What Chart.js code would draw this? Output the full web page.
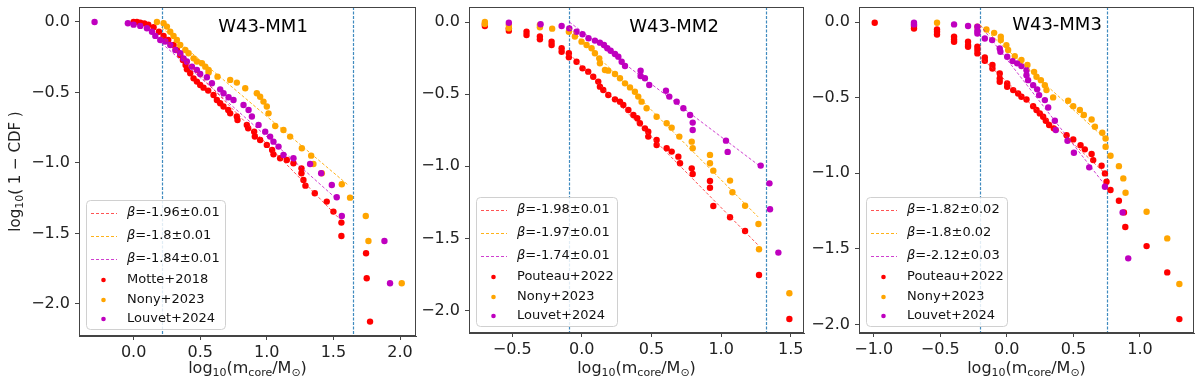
<!DOCTYPE html>
<html>
<head>
<meta charset="utf-8">
<script src="https://cdn.jsdelivr.net/npm/chart.js@4.4.1/dist/chart.umd.min.js"></script>
<style>
  body { margin: 0; background: #fff; }
  #wrap { position: relative; width: 1200px; height: 384px; }
  canvas { position: absolute; top: 0; }
</style>
</head>
<body>
<div id="wrap">
  <canvas id="c1" width="420" height="384" style="left:0px"></canvas>
  <canvas id="c2" width="390" height="384" style="left:420px"></canvas>
  <canvas id="c3" width="390" height="384" style="left:810px"></canvas>
</div>
<script>
// ---- data: [log10(m_core/Msun), log10(1-CDF)] ----
const mm1Motte = [[0,0],[0.025,0],[0.05,-0.005],[0.08,-0.01],[0.11,-0.02],[0.15,-0.038],[0.19,-0.069],[0.225,-0.1],[0.26,-0.128],[0.3,-0.163],[0.325,-0.199],[0.35,-0.234],[0.37,-0.27],[0.39,-0.305],[0.4,-0.336],[0.425,-0.364],[0.45,-0.4],[0.475,-0.423],[0.5,-0.447],[0.525,-0.466],[0.56,-0.487],[0.6,-0.518],[0.625,-0.553],[0.65,-0.577],[0.675,-0.6],[0.71,-0.624],[0.725,-0.648],[0.775,-0.671],[0.78,-0.695],[0.85,-0.73],[0.86,-0.754],[0.905,-0.778],[0.91,-0.813],[0.95,-0.837],[1.0,-0.872],[1.04,-0.908],[1.05,-0.939],[1.1,-0.967],[1.15,-0.979],[1.2,-1.002],[1.26,-1.038],[1.26,-1.073],[1.275,-1.12],[1.29,-1.161],[1.36,-1.215],[1.45,-1.274],[1.5,-1.345],[1.56,-1.423],[1.56,-1.518],[1.745,-1.64],[1.75,-1.818],[1.775,-2.125]];
const mm1Nony = [[0.175,0],[0.225,-0.009],[0.25,-0.033],[0.275,-0.069],[0.3,-0.099],[0.325,-0.128],[0.35,-0.163],[0.388,-0.199],[0.413,-0.222],[0.45,-0.258],[0.475,-0.281],[0.513,-0.293],[0.538,-0.317],[0.563,-0.34],[0.563,-0.359],[0.63,-0.388],[0.725,-0.411],[0.775,-0.43],[0.838,-0.47],[0.925,-0.506],[0.95,-0.53],[0.975,-0.565],[1.0,-0.6],[1.013,-0.648],[1.063,-0.738],[1.125,-0.766],[1.175,-0.813],[1.263,-0.896],[1.333,-0.948],[1.35,-1.007],[1.413,-1.073],[1.563,-1.151],[1.625,-1.246],[1.743,-1.376],[1.763,-1.553],[2.013,-1.853]];
const mm1Louvet = [[-0.293,0],[-0.043,-0.009],[0,-0.019],[0.05,-0.028],[0.1,-0.045],[0.138,-0.069],[0.163,-0.099],[0.2,-0.128],[0.238,-0.139],[0.275,-0.163],[0.313,-0.199],[0.35,-0.222],[0.375,-0.258],[0.4,-0.281],[0.438,-0.317],[0.475,-0.34],[0.5,-0.369],[0.55,-0.392],[0.588,-0.435],[0.65,-0.478],[0.675,-0.506],[0.713,-0.534],[0.75,-0.553],[0.825,-0.589],[0.863,-0.624],[0.888,-0.671],[0.938,-0.73],[0.988,-0.778],[1.025,-0.813],[1.05,-0.849],[1.088,-0.884],[1.125,-0.943],[1.2,-0.967],[1.325,-1.007],[1.408,-1.073],[1.488,-1.156],[1.525,-1.243],[1.563,-1.376],[1.883,-1.553],[1.925,-1.853]];

const mm2Pouteau = [[-0.696,-0.014],[-0.696,-0.028],[-0.524,-0.044],[-0.524,-0.06],[-0.397,-0.067],[-0.397,-0.09],[-0.301,-0.1],[-0.301,-0.12],[-0.217,-0.136],[-0.217,-0.159],[-0.145,-0.182],[-0.145,-0.206],[-0.093,-0.217],[-0.093,-0.245],[-0.038,-0.275],[0.005,-0.321],[0.046,-0.344],[0.082,-0.379],[0.118,-0.413],[0.13,-0.448],[0.154,-0.471],[0.19,-0.506],[0.238,-0.536],[0.274,-0.552],[0.298,-0.575],[0.334,-0.61],[0.37,-0.644],[0.398,-0.667],[0.417,-0.702],[0.453,-0.737],[0.477,-0.76],[0.477,-0.794],[0.537,-0.818],[0.537,-0.852],[0.609,-0.875],[0.645,-0.898],[0.693,-0.933],[0.705,-0.979],[0.789,-1.014],[0.796,-1.053],[0.92,-1.102],[0.92,-1.148],[0.944,-1.275],[1.064,-1.353],[1.172,-1.448],[1.272,-1.753],[1.49,-2.058]];
const mm2Nony = [[-0.696,0],[-0.696,-0.014],[-0.524,-0.02],[-0.524,-0.044],[-0.301,-0.02],[-0.301,-0.037],[-0.213,-0.046],[-0.093,-0.067],[-0.05,-0.1],[-0.002,-0.136],[0.034,-0.159],[0.07,-0.182],[0.094,-0.217],[0.125,-0.252],[0.13,-0.286],[0.166,-0.333],[0.19,-0.337],[0.238,-0.36],[0.274,-0.39],[0.31,-0.425],[0.346,-0.453],[0.381,-0.483],[0.405,-0.517],[0.429,-0.552],[0.465,-0.598],[0.537,-0.656],[0.609,-0.702],[0.645,-0.732],[0.7,-0.794],[0.789,-0.829],[0.796,-0.875],[0.92,-0.921],[0.92,-0.979],[0.944,-1.03],[1.064,-1.099],[1.081,-1.18],[1.172,-1.273],[1.268,-1.4],[1.272,-1.575],[1.49,-1.88]];
const mm2Louvet = [[-0.524,-0.005],[-0.296,-0.016],[-0.145,-0.028],[-0.09,-0.044],[-0.038,-0.067],[0.005,-0.085],[0.048,-0.113],[0.094,-0.129],[0.13,-0.143],[0.159,-0.159],[0.183,-0.182],[0.207,-0.199],[0.238,-0.222],[0.262,-0.24],[0.286,-0.275],[0.31,-0.305],[0.422,-0.337],[0.422,-0.374],[0.453,-0.39],[0.484,-0.436],[0.604,-0.476],[0.628,-0.517],[0.681,-0.552],[0.729,-0.598],[0.777,-0.644],[0.796,-0.697],[0.796,-0.748],[1.035,-0.822],[1.047,-0.9],[1.284,-0.995],[1.347,-1.118],[1.351,-1.298],[1.411,-1.598]];

const mm3Pouteau = [[-0.992,-0.004],[-0.697,-0.026],[-0.697,-0.042],[-0.524,-0.049],[-0.524,-0.064],[-0.524,-0.082],[-0.396,-0.097],[-0.396,-0.115],[-0.396,-0.13],[-0.291,-0.13],[-0.291,-0.152],[-0.291,-0.163],[-0.221,-0.163],[-0.221,-0.185],[-0.221,-0.207],[-0.165,-0.234],[-0.165,-0.256],[-0.108,-0.284],[-0.108,-0.307],[-0.053,-0.34],[-0.053,-0.373],[-0.053,-0.395],[0.003,-0.406],[0.003,-0.428],[0.048,-0.45],[0.085,-0.472],[0.11,-0.494],[0.148,-0.512],[0.198,-0.556],[0.223,-0.582],[0.248,-0.604],[0.273,-0.626],[0.293,-0.653],[0.318,-0.681],[0.353,-0.703],[0.449,-0.748],[0.499,-0.776],[0.554,-0.814],[0.586,-0.842],[0.637,-0.873],[0.649,-0.913],[0.712,-0.95],[0.737,-1.001],[0.749,-1.056],[0.779,-1.111],[0.842,-1.182],[0.88,-1.259],[0.89,-1.356],[1.05,-1.482],[1.205,-1.656],[1.296,-1.965]];
const mm3Nony = [[-0.524,-0.004],[-0.221,-0.031],[-0.153,-0.049],[-0.095,-0.071],[-0.045,-0.097],[-0.045,-0.119],[-0.003,-0.152],[0.01,-0.185],[0.06,-0.225],[0.11,-0.251],[0.155,-0.284],[0.205,-0.329],[0.223,-0.362],[0.256,-0.384],[0.286,-0.417],[0.298,-0.45],[0.348,-0.498],[0.461,-0.52],[0.499,-0.556],[0.549,-0.582],[0.579,-0.615],[0.637,-0.644],[0.662,-0.692],[0.717,-0.732],[0.742,-0.77],[0.742,-0.825],[0.779,-0.884],[0.842,-0.953],[0.875,-1.034],[0.892,-1.129],[1.05,-1.255],[1.205,-1.431],[1.296,-1.733]];
const mm3Louvet = [[-0.697,-0.004],[-0.697,-0.015],[-0.396,-0.015],[-0.291,-0.026],[-0.221,-0.031],[-0.221,-0.057],[-0.221,-0.075],[-0.165,-0.108],[-0.11,-0.119],[-0.053,-0.174],[-0.048,-0.196],[0.003,-0.229],[0.043,-0.258],[0.078,-0.273],[0.11,-0.291],[0.148,-0.318],[0.148,-0.351],[0.16,-0.384],[0.198,-0.417],[0.228,-0.445],[0.243,-0.483],[0.286,-0.516],[0.311,-0.565],[0.361,-0.653],[0.368,-0.714],[0.456,-0.785],[0.504,-0.864],[0.619,-0.961],[0.737,-1.089],[0.87,-1.259],[0.912,-1.563]];

// power-law fit segments (red, orange, purple): [[x0,y0],[x1,y1]]
const mm1Fits = [[[0.21,-0.1],[1.55,-1.4]], [[0.21,-0.04],[1.61,-1.156]], [[0.21,-0.15],[1.53,-1.26]]];
const mm2Fits = [[[-0.09,-0.22],[1.27,-1.55]], [[-0.09,-0.04],[1.265,-1.35]], [[-0.09,0.0],[1.28,-1.0]]];
const mm3Fits = [[[-0.2,-0.23],[0.75,-1.01]], [[-0.2,-0.02],[0.75,-0.78]], [[-0.2,-0.02],[0.73,-1.07]]];

const mm1Betas = ['-1.96\u00b10.01', '-1.8\u00b10.01', '-1.84\u00b10.01'];
const mm2Betas = ['-1.98\u00b10.01', '-1.97\u00b10.01', '-1.74\u00b10.01'];
const mm3Betas = ['-1.82\u00b10.02', '-1.8\u00b10.02', '-2.12\u00b10.03'];
const mm1Surveys = ['Motte+2018', 'Nony+2023', 'Louvet+2024'];
const mm23Surveys = ['Pouteau+2022', 'Nony+2023', 'Louvet+2024'];

// fit range limits (vertical dashed lines)
const mm1Cuts = [0.21, 1.65];
const mm2Cuts = [-0.09, 1.32];
const mm3Cuts = [-0.2, 0.75];

const yTicks = [0, -0.5, -1, -1.5, -2];
const mm1XTicks = [0, 0.5, 1, 1.5, 2];
const mm2XTicks = [-0.5, 0, 0.5, 1, 1.5];
const mm3XTicks = [-1, -0.5, 0, 0.5, 1];

// ---- styling ----
const COLORS = ['#ff0000', '#ffa500', '#bf00bf'];
const FIT_COLORS = ['rgba(255,40,40,0.8)', 'rgba(255,170,0,0.9)', 'rgba(191,0,191,0.75)'];
const FONT = "'DejaVu Sans', sans-serif";
const SPINE = '#444';

const toPts = arr => arr.map(p => ({ x: p[0], y: p[1] }));
const fmt = v => (v < 0 ? '\u2212' : '') + Math.abs(v).toFixed(1);

// draws text made of [string, isSub] parts, centered on x
function drawRich(ctx, parts, x, y, size) {
    const sub = Math.round(size * 0.7);
    let total = 0;
    parts.forEach(([t, s]) => {
        ctx.font = `${s ? sub : size}px ${FONT}`;
        total += ctx.measureText(t).width;
    });
    let cx = x - total / 2;
    ctx.textAlign = 'left';
    ctx.textBaseline = 'middle';
    parts.forEach(([t, s]) => {
        ctx.font = `${s ? sub : size}px ${FONT}`;
        ctx.fillText(t, cx, s ? y + size * 0.28 : y);
        cx += ctx.measureText(t).width;
    });
}

function decoPlugin(p) {
    return {
        id: 'deco',
        beforeDatasetsDraw(chart) {
            const { ctx, chartArea: a, scales: { x } } = chart;
            ctx.save();
            ctx.strokeStyle = 'rgba(31,119,180,0.85)';
            ctx.lineWidth = 1.2;
            ctx.setLineDash([3, 1.5]);
            p.cuts.forEach(c => {
                const px = Math.round(x.getPixelForValue(c)) + 0.5;
                ctx.beginPath();
                ctx.moveTo(px, a.top);
                ctx.lineTo(px, a.bottom);
                ctx.stroke();
            });
            ctx.restore();
        },
        afterDraw(chart) {
            const { ctx, chartArea: a } = chart;
            ctx.save();
            // frame
            ctx.strokeStyle = SPINE;
            ctx.lineWidth = 1;
            ctx.strokeRect(a.left + 0.5, a.top + 0.5, a.right - a.left - 1, a.bottom - a.top - 1);

            // panel title
            ctx.fillStyle = '#000';
            ctx.font = `18px ${FONT}`;
            ctx.textAlign = 'center';
            ctx.textBaseline = 'middle';
            ctx.fillText(p.title, p.titleX, p.titleY);

            // x axis title
            ctx.fillStyle = '#222';
            drawRich(ctx, [['log', 0], ['10', 1], ['(m', 0], ['core', 1], ['/M', 0], ['\u2299', 1], [')', 0]],
                (a.left + a.right) / 2, 369, 16);

            // y axis title (first panel only)
            if (p.yTitle) {
                ctx.save();
                ctx.translate(16, (a.top + a.bottom) / 2);
                ctx.rotate(-Math.PI / 2);
                drawRich(ctx, [['log', 0], ['10', 1], ['( 1 \u2212 CDF )', 0]], 0, 0, 15);
                ctx.restore();
            }

            // legend
            const bw = p.legendW, bh = 129;
            const bx = a.left + 7, by = a.bottom - 7 - bh;
            ctx.fillStyle = 'rgba(255,255,255,0.85)';
            ctx.strokeStyle = '#d0d0d0';
            ctx.lineWidth = 1;
            ctx.beginPath();
            ctx.roundRect(bx + 0.5, by + 0.5, bw, bh, 4);
            ctx.fill();
            ctx.stroke();

            const rows = [13, 36, 59, 80, 100, 119];
            ctx.textAlign = 'left';
            ctx.textBaseline = 'middle';
            p.betas.forEach((b, i) => {
                const ry = by + rows[i];
                ctx.strokeStyle = FIT_COLORS[i];
                ctx.lineWidth = 1;
                ctx.setLineDash([3, 2]);
                ctx.beginPath();
                ctx.moveTo(bx + 5, ry + 0.5);
                ctx.lineTo(bx + 31, ry + 0.5);
                ctx.stroke();
                ctx.setLineDash([]);
                ctx.fillStyle = '#111';
                ctx.font = `italic 13px ${FONT}`;
                ctx.fillText('\u03b2', bx + 41, ry);
                const w = ctx.measureText('\u03b2').width;
                ctx.font = `13px ${FONT}`;
                ctx.fillText('=' + b, bx + 41 + w, ry);
            });
            p.surveys.forEach((s, i) => {
                const ry = by + rows[i + 3];
                ctx.fillStyle = COLORS[i];
                ctx.beginPath();
                ctx.arc(bx + 17.5, ry, 2.3, 0, Math.PI * 2);
                ctx.fill();
                ctx.fillStyle = '#111';
                ctx.font = `13px ${FONT}`;
                ctx.fillText(s, bx + 41, ry);
            });
            ctx.restore();
        }
    };
}

function makePanel(id, p) {
    const sets = [];
    p.fits.forEach((f, i) => {
        sets.push({
            data: toPts(f), showLine: true, borderColor: FIT_COLORS[i], borderWidth: 1,
            borderDash: [3, 2], pointRadius: 0, order: 0
        });
    });
    p.series.forEach((s, i) => {
        sets.push({
            data: toPts(s), backgroundColor: COLORS[i], borderWidth: 0,
            pointRadius: 3.2, order: 3 - i
        });
    });

    const tickFont = { family: FONT, size: 16 };
    new Chart(document.getElementById(id), {
        type: 'scatter',
        data: { datasets: sets },
        options: {
            responsive: false,
            animation: false,
            devicePixelRatio: 1,
            layout: { padding: { top: 7, right: p.padRight, left: 0, bottom: 0 } },
            plugins: { legend: { display: false }, tooltip: { enabled: false } },
            scales: {
                x: {
                    type: 'linear', min: p.xMin, max: p.xMax,
                    afterBuildTicks: s => { s.ticks = p.xTicks.map(v => ({ value: v })); },
                    afterFit: s => { s.height = p.xAxisH; s.paddingLeft = 0; s.paddingRight = 0; },
                    ticks: { font: tickFont, color: '#222', padding: 3, autoSkip: false, maxRotation: 0, callback: fmt },
                    grid: { drawOnChartArea: false, tickLength: 4, color: SPINE },
                    border: { color: SPINE }
                },
                y: {
                    type: 'linear', min: p.yMin, max: p.yMax,
                    afterBuildTicks: s => { s.ticks = yTicks.map(v => ({ value: v })); },
                    afterFit: s => { s.width = p.yAxisW; s.paddingTop = 0; s.paddingBottom = 0; },
                    ticks: { font: tickFont, color: '#222', padding: 5, autoSkip: false, callback: fmt },
                    grid: { drawOnChartArea: false, tickLength: 4, color: SPINE },
                    border: { color: SPINE }
                }
            }
        },
        plugins: [decoPlugin(p)]
    });
}

makePanel('c1', {
    series: [mm1Motte, mm1Nony, mm1Louvet], fits: mm1Fits, cuts: mm1Cuts,
    betas: mm1Betas, surveys: mm1Surveys, xTicks: mm1XTicks,
    xMin: -0.41, xMax: 2.12, yMin: -2.227, yMax: 0.106,
    yAxisW: 79, xAxisH: 48, padRight: 4, legendW: 139,
    title: 'W43-MM1', titleX: 263, titleY: 27, yTitle: true
});
makePanel('c2', {
    series: [mm2Pouteau, mm2Nony, mm2Louvet], fits: mm2Fits, cuts: mm2Cuts,
    betas: mm2Betas, surveys: mm23Surveys, xTicks: mm2XTicks,
    xMin: -0.81, xMax: 1.595, yMin: -2.155, yMax: 0.104,
    yAxisW: 49, xAxisH: 51, padRight: 6, legendW: 141,
    title: 'W43-MM2', titleX: 254, titleY: 27
});
makePanel('c3', {
    series: [mm3Pouteau, mm3Nony, mm3Louvet], fits: mm3Fits, cuts: mm3Cuts,
    betas: mm3Betas, surveys: mm23Surveys, xTicks: mm3XTicks,
    xMin: -1.11, xMax: 1.406, yMin: -2.057, yMax: 0.1,
    yAxisW: 49, xAxisH: 51, padRight: 6, legendW: 141,
    title: 'W43-MM3', titleX: 247, titleY: 25
});
</script>
</body>
</html>
